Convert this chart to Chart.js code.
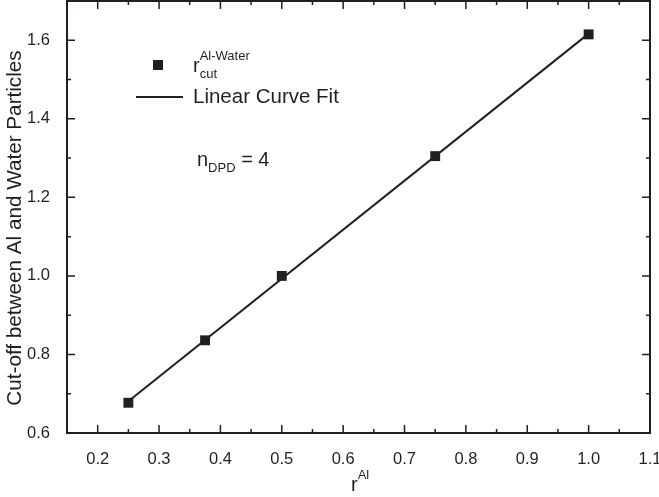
<!DOCTYPE html>
<html>
<head>
<meta charset="utf-8">
<script src="https://cdn.jsdelivr.net/npm/chart.js@4.4.1/dist/chart.umd.min.js"></script>
<style>
  body { margin: 0; background: #fff; }
  canvas { display: block; }
</style>
</head>
<body>
<canvas id="chart" width="659" height="497"></canvas>
<script>
// measured points
const rAl = [0.25, 0.375, 0.5, 0.75, 1.0];
const rCut = [0.677, 0.836, 1.0, 1.305, 1.615];
// linear fit end points
const fitX = [0.25, 1.0];
const fitY = [0.681, 1.617];

const ink = '#231f20';
const fontFam = '"Liberation Sans", Arial, sans-serif';

function font(size) { return size + 'px ' + fontFam; }

// draw text with a super- and/or subscript after a base glyph
function scriptText(ctx, base, sup, sub, x, y, size, small) {
    ctx.font = font(size);
    ctx.fillText(base, x, y);
    const w = ctx.measureText(base).width;
    ctx.font = font(small);
    let w2 = 0;
    if (sup) { ctx.fillText(sup, x + w, y - size * 0.6); w2 = ctx.measureText(sup).width; }
    if (sub) { ctx.fillText(sub, x + w, y + size * 0.3); w2 = Math.max(w2, ctx.measureText(sub).width); }
    return x + w + w2;
}

const frame = {
    id: 'frame',
    afterDraw(chart) {
        const ctx = chart.ctx;
        const a = chart.chartArea;
        const xs = chart.scales.x, ys = chart.scales.y;
        ctx.save();
        ctx.strokeStyle = ink;
        ctx.lineWidth = 1.5;
        // inward tick marks on all four sides
        const xt = xs.ticks.map(t => t.value);
        const yt = ys.ticks.map(t => t.value);
        const xStep = xt[1] - xt[0], yStep = yt[1] - yt[0];
        const xMinor = [xt[0] - xStep / 2].concat(xt.map(v => v + xStep / 2)).filter(v => v > xs.min && v < xs.max);
        const yMinor = yt.map(v => v + yStep / 2).filter(v => v > ys.min && v < ys.max);
        ctx.beginPath();
        xt.forEach(v => {
            const p = xs.getPixelForValue(v);
            ctx.moveTo(p, a.bottom); ctx.lineTo(p, a.bottom - 8);
            ctx.moveTo(p, a.top); ctx.lineTo(p, a.top + 8);
        });
        xMinor.forEach(v => {
            const p = xs.getPixelForValue(v);
            ctx.moveTo(p, a.bottom); ctx.lineTo(p, a.bottom - 4);
            ctx.moveTo(p, a.top); ctx.lineTo(p, a.top + 4);
        });
        yt.forEach(v => {
            const p = ys.getPixelForValue(v);
            ctx.moveTo(a.left, p); ctx.lineTo(a.left + 8, p);
            ctx.moveTo(a.right, p); ctx.lineTo(a.right - 8, p);
        });
        yMinor.forEach(v => {
            const p = ys.getPixelForValue(v);
            ctx.moveTo(a.left, p); ctx.lineTo(a.left + 4, p);
            ctx.moveTo(a.right, p); ctx.lineTo(a.right - 4, p);
        });
        ctx.stroke();
        ctx.lineWidth = 2;
        ctx.strokeRect(a.left, a.top, a.right - a.left, a.bottom - a.top);

        // legend
        ctx.fillStyle = ink;
        ctx.fillRect(153, 60, 10, 10);
        ctx.beginPath();
        ctx.moveTo(136, 97); ctx.lineTo(183, 97);
        ctx.lineWidth = 2;
        ctx.stroke();
        ctx.textBaseline = 'alphabetic';
        ctx.textAlign = 'left';
        scriptText(ctx, 'r', 'Al-Water', 'cut', 193, 72, 20, 13);
        ctx.font = font(20.5);
        ctx.fillText('Linear Curve Fit', 193, 103);

        // annotation
        const e = scriptText(ctx, 'n', null, 'DPD', 197, 166, 20, 13);
        ctx.font = font(20);
        ctx.fillText(' = 4', e, 166);

        // x axis title
        scriptText(ctx, 'r', 'Al', null, 351, 491, 20, 13);

        // y axis title
        ctx.translate(15, 228);
        ctx.rotate(-Math.PI / 2);
        ctx.textAlign = 'center';
        ctx.textBaseline = 'middle';
        ctx.font = font(20.7);
        ctx.fillText('Cut-off between Al and Water Particles', 0, 0);
        ctx.restore();
    }
};

new Chart(document.getElementById('chart').getContext('2d'), {
    type: 'scatter',
    data: {
        datasets: [
            {
                label: 'Linear Curve Fit',
                data: fitX.map((x, i) => ({ x: x, y: fitY[i] })),
                showLine: true,
                borderColor: ink,
                borderWidth: 2,
                pointRadius: 0
            },
            {
                label: 'r cut',
                data: rAl.map((x, i) => ({ x: x, y: rCut[i] })),
                pointStyle: 'rect',
                pointRadius: 7,
                backgroundColor: ink,
                borderColor: ink,
                borderWidth: 0
            }
        ]
    },
    options: {
        responsive: false,
        animation: false,
        layout: { autoPadding: false, padding: { left: 0, right: 9, top: 1, bottom: 0 } },
        plugins: {
            legend: { display: false },
            tooltip: { enabled: false }
        },
        scales: {
            x: {
                type: 'linear',
                min: 0.15,
                max: 1.1,
                grid: { display: false },
                border: { display: false },
                ticks: {
                    stepSize: 0.1,
                    includeBounds: false,
                    color: ink,
                    padding: 9,
                    font: { size: 16.5, family: fontFam },
                    callback: v => v.toFixed(1)
                },
                afterFit: s => { s.height = 64; s.paddingLeft = 0; s.paddingRight = 0; }
            },
            y: {
                type: 'linear',
                min: 0.6,
                max: 1.7,
                grid: { display: false },
                border: { display: false },
                ticks: {
                    stepSize: 0.2,
                    includeBounds: false,
                    color: ink,
                    padding: 9,
                    font: { size: 16.5, family: fontFam },
                    callback: v => v.toFixed(1)
                },
                afterFit: s => { s.width = 67; s.paddingTop = 0; s.paddingBottom = 0; }
            }
        }
    },
    plugins: [frame]
});
</script>
</body>
</html>
